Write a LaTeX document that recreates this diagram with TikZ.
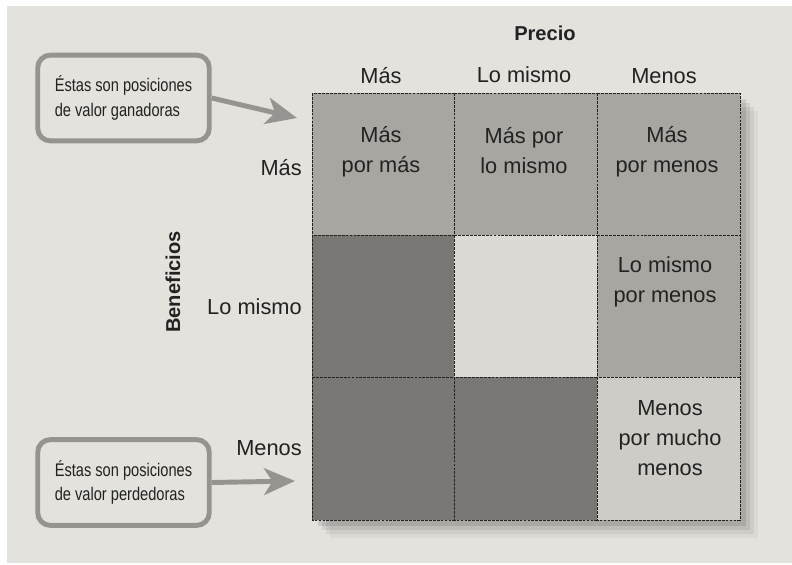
\documentclass[tikz,border=0pt]{standalone}
\usepackage{fontspec}
\setmainfont{Liberation Sans}
\newfontfamily\narrowsans[FakeStretch=0.8]{Liberation Sans}
\usetikzlibrary{arrows.meta}
\definecolor{page}{RGB}{228,226,221}
\definecolor{ink}{RGB}{34,34,34}
\definecolor{midgray}{RGB}{168,166,161}
\definecolor{darkgray}{RGB}{122,120,116}
\definecolor{palegray}{RGB}{220,218,213}
\definecolor{lightgray}{RGB}{206,204,199}
\definecolor{notegray}{RGB}{150,148,144}
\tikzset{
  lbl/.style={text=ink,font=\fontsize{15.5}{21.3}\selectfont,align=center,inner sep=0pt},
  head/.style={text=ink,font=\bfseries\fontsize{14.3}{17}\selectfont,inner sep=0pt},
  cell/.style={draw=ink,line width=0.4pt,dash pattern=on 2pt off 0.8pt},
  note/.style={draw=notegray,line width=3.5pt,rounded corners=9pt,
    minimum width=122pt,minimum height=61pt,align=left,text=ink,
    font=\narrowsans\fontsize{13}{17.7}\selectfont},
  pointer/.style={draw=notegray,line width=3.5pt,
    -{Stealth[length=22pt,width=19pt,inset=6pt]}}
}
\begin{document}
\begin{tikzpicture}[x=0.025cm,y=-0.025cm]
  \useasboundingbox (0,0) rectangle (792,565);
  \fill[white] (0,0) rectangle (792,565);
  \fill[page] (7,6) rectangle (792,563);
  % shadow of the grid
  \foreach \d/\o in {18/0.04,14/0.06,10/0.08,6/0.1}
    \fill[black,opacity=\o] (312+\d,93+\d) rectangle (740+\d,520+\d);
  % cells, row by row
  \draw[cell,fill=midgray] (312,93) rectangle (454,235);
  \draw[cell,fill=midgray] (454,93) rectangle (597,235);
  \draw[cell,fill=midgray] (597,93) rectangle (740,235);
  \draw[cell,fill=darkgray] (312,235) rectangle (454,377);
  \draw[cell,fill=palegray] (454,235) rectangle (597,377);
  \draw[cell,fill=midgray] (597,235) rectangle (740,377);
  \draw[cell,fill=darkgray] (312,377) rectangle (454,520);
  \draw[cell,fill=darkgray] (454,377) rectangle (597,520);
  \draw[cell,fill=lightgray] (597,377) rectangle (740,520);
  % axis titles and headers
  \node[head] (precio) at (545,33) {Precio};
  \node[head,rotate=90] (benef) at (173,282) {Beneficios};
  \node[lbl] (pmas) at (381,76) {Más};
  \node[lbl] (pigual) at (524,75) {Lo mismo};
  \node[lbl] (pmenos) at (664,76) {Menos};
  \node[lbl,anchor=east] (bmas) at (302,168) {Más};
  \node[lbl,anchor=east] (bigual) at (302,307) {Lo mismo};
  \node[lbl,anchor=east] (bmenos) at (302,448) {Menos};
  % cell texts
  \node[lbl] (c11) at (381,152) {Más\\por más};
  \node[lbl] (c12) at (524,151) {Más por\\lo mismo};
  \node[lbl] (c13) at (667,152) {Más\\por menos};
  \node[lbl] (c23) at (665,282) {Lo mismo\\por menos};
  \node[lbl] (c33) at (670,438) {Menos\\por mucho\\menos};
  % notes
  \node[note] (gana) at (123.5,98) {Éstas son posiciones\\de valor ganadoras};
  \node[note] (pierde) at (123.5,482.5) {Éstas son posiciones\\de valor perdedoras};
  \coordinate (tgana) at (297,118);
  \coordinate (tpierde) at (295,481);
  \draw[pointer] (gana.east) -- (tgana);
  \draw[pointer] (pierde.east) -- (tpierde);
\end{tikzpicture}
\end{document}
